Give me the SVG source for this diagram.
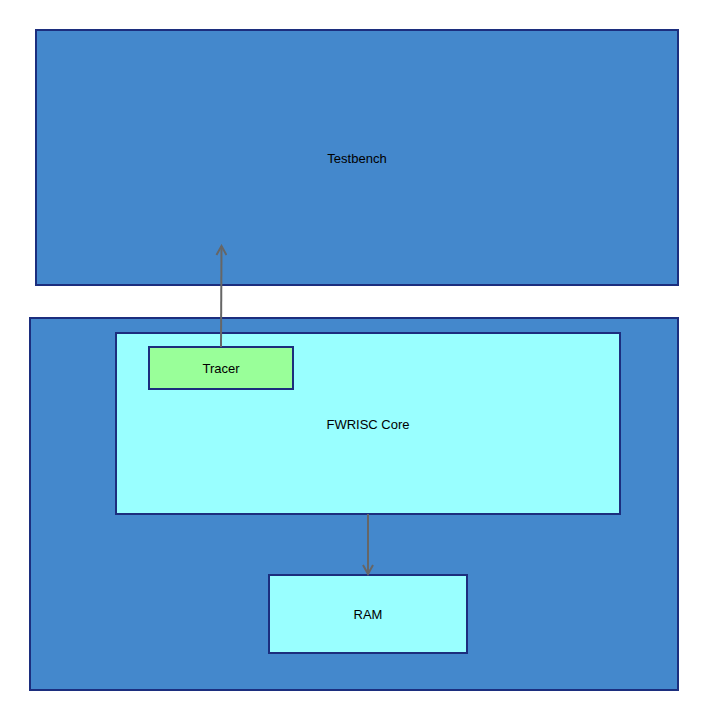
<svg xmlns="http://www.w3.org/2000/svg" width="708" height="711" viewBox="0 0 708 711">
<style>
.box{stroke:#1c2e7e;stroke-width:2}
.blue{fill:#4488cc}
.cyan{fill:#99ffff}
.green{fill:#99ff99}
text{font-family:"Liberation Sans",Arial,sans-serif;font-size:13px;fill:#000;text-anchor:middle;dominant-baseline:central}
.conn{stroke:#666666;stroke-width:2;fill:none}
</style>
<defs>
<marker id="arr" viewBox="0 0 12 12" refX="10" refY="6" markerWidth="12" markerHeight="12" markerUnits="userSpaceOnUse" orient="auto">
<path d="M1,1 L10,6 L1,11" fill="none" stroke="#666666" stroke-width="2"/>
</marker>
</defs>
<rect width="708" height="711" fill="#ffffff"/>
<g id="testbench">
<rect class="box blue" x="36" y="30" width="642" height="255"/>
<text x="357" y="158">Testbench</text>
</g>
<g id="top">
<rect class="box blue" x="30" y="318" width="648" height="372"/>
</g>
<g id="core">
<rect class="box cyan" x="116" y="333" width="504" height="181"/>
<text x="368" y="424">FWRISC Core</text>
</g>
<g id="tracer">
<rect class="box green" x="149" y="347" width="144" height="42"/>
<text x="221" y="368">Tracer</text>
</g>
<g id="ram">
<rect class="box cyan" x="269" y="575" width="198" height="78"/>
<text x="368" y="614">RAM</text>
</g>
<g id="connectors">
<line class="conn" x1="221" y1="347" x2="221.5" y2="246" marker-end="url(#arr)"/>
<line class="conn" x1="368" y1="514" x2="368" y2="574" marker-end="url(#arr)"/>
</g>
</svg>
